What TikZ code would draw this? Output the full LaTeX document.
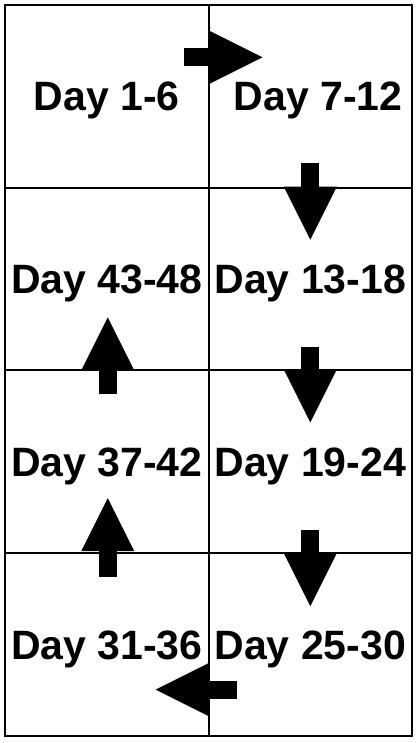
\documentclass[tikz,border=0pt]{standalone}
\usepackage{fontspec}
\setmainfont{Liberation Sans}
\usetikzlibrary{positioning}
\usetikzlibrary{arrows.meta}

\begin{document}
\begin{tikzpicture}[
    x=1pt, y=1pt,
    node distance=182.75pt and 203.5pt, % Cell pitch, rows and columns
    ]
% -------------------------------------------------
\tikzset{
  cell/.style={draw, on grid, line width=2pt, outer sep=0pt, inner sep=0pt,
    minimum width=203.5pt, minimum height=182.75pt,
    text height=29pt, text depth=0pt,
    font=\bfseries\fontsize{41}{45}\selectfont},
  blk/.style={draw, line width=18pt,
    -{Triangle[length=53pt, width=53pt, line width=0pt]}}
}
\useasboundingbox[fill=white] (0,0) rectangle (418,743);
% -------------------------------------------------
% Placing the cells

\node [cell] (d1) at (106.75,646.625) {Day 1-6};
\node [cell, right=of d1] (d7) {\hspace*{16pt}Day 7-12};
\node [cell, below=of d1] (d43) {Day 43-48};
\node [cell, right=of d43] (d13) {Day 13-18};
\node [cell, below=of d43] (d37) {Day 37-42};
\node [cell, right=of d37] (d19) {Day 19-24};
\node [cell, below=of d37] (d31) {Day 31-36};
\node [cell, right=of d31] (d25) {Day 25-30};

% Block arrows across the borders
\draw [blk] ([shift={(-25,39)}]d1.east) -- ([shift={(54,39)}]d1.east);
\draw [blk] ([yshift=25pt]d7.south) -- ([yshift=-52pt]d7.south);
\draw [blk] ([yshift=23pt]d13.south) -- ([yshift=-52pt]d13.south);
\draw [blk] ([yshift=23pt]d19.south) -- ([yshift=-53pt]d19.south);
\draw [blk] ([shift={(28,-45)}]d25.west) -- ([shift={(-53,-45)}]d25.west);
\draw [blk] ([shift={(1,-24)}]d31.north) -- ([shift={(1,55)}]d31.north);
\draw [blk] ([shift={(1,-24)}]d37.north) -- ([shift={(1,53)}]d37.north);

\end{tikzpicture}
\end{document}
